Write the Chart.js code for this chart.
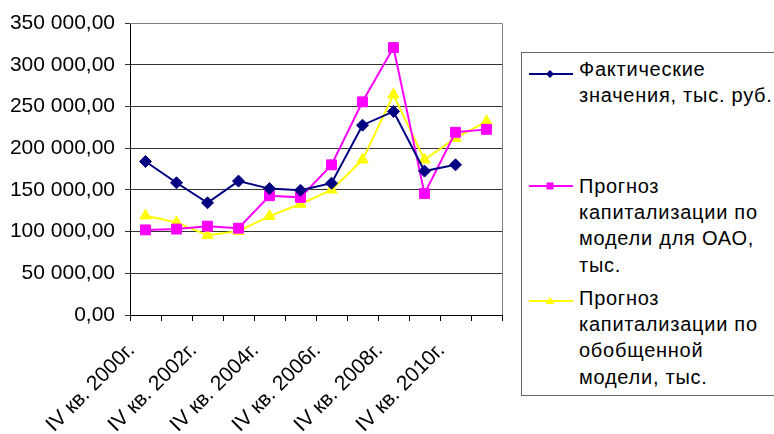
<!DOCTYPE html>
<html lang="ru">
<head>
<meta charset="utf-8">
<script src="https://cdn.jsdelivr.net/npm/chart.js@4.4.1/dist/chart.umd.min.js"></script>
<style>
  html, body { margin: 0; padding: 0; background: #fff; }
  #wrap { position: relative; width: 774px; height: 434px; overflow: hidden; }
  #legend {
    position: absolute; left: 521px; top: 52px; width: 280px; height: 342px;
    border: 1px solid #666; background: #fff;
    font-family: "Liberation Sans", Arial, sans-serif; font-size: 20px;
    letter-spacing: 0.75px; color: #000;
  }
  #legend .item { position: absolute; left: 57px; line-height: 26.2px; white-space: nowrap; }
  #legend svg { position: absolute; left: 0; top: 0; }
</style>
</head>
<body>
<div id="wrap">
  <canvas id="chart" width="774" height="434"></canvas>
  <div id="legend"></div>
</div>
<script>
// chart data
const categories = ['IV кв. 2000г.', 'IV кв. 2001г.', 'IV кв. 2002г.', 'IV кв. 2003г.', 'IV кв. 2004г.', 'IV кв. 2005г.',
  'IV кв. 2006г.', 'IV кв. 2007г.', 'IV кв. 2008г.', 'IV кв. 2009г.', 'IV кв. 2010г.', 'IV кв. 2011г.'];
const actualValues = [184000, 158500, 134500, 160500, 151500, 149500, 158000, 227500, 244000, 172500, 180000, null];
const forecastOao = [102000, 103000, 106500, 104000, 143000, 141000, 180000, 255500, 320500, 145500, 219000, 222500];
const forecastGeneral = [119000, 111000, 95500, 100500, 118500, 133000, 150000, 186000, 264000, 186000, 212000, 232000];
const seriesNames = [
  ['Фактические', 'значения, тыс. руб.'],
  ['Прогноз', 'капитализации по', 'модели для ОАО,', 'тыс.'],
  ['Прогноз', 'капитализации по', 'обобщенной', 'модели, тыс.']
];
const yMin = 0, yMax = 350000, yStep = 50000;

const FONT = { family: '"Liberation Sans", Arial, sans-serif', size: 21 };
const COLORS = ['#000080', '#FF00FF', '#FFFF00'];

// "350 000,00"
const formatValue = (v) => {
  const s = Math.round(v).toString().replace(/\B(?=(\d{3})+(?!\d))/g, ' ');
  return s + ',00';
};

// gray plot-area frame on the top and right side
const plotFrame = {
  id: 'plotFrame',
  beforeDatasetsDraw(chart) {
    const { ctx, chartArea: a } = chart;
    ctx.save();
    ctx.strokeStyle = '#808080';
    ctx.lineWidth = 1;
    ctx.beginPath();
    ctx.moveTo(a.left, a.top + 0.5);
    ctx.lineTo(a.right + 0.5, a.top + 0.5);
    ctx.lineTo(a.right + 0.5, a.bottom);
    ctx.stroke();
    ctx.restore();
  }
};

const makeDataset = (label, data, i, style, radius) => ({
  label,
  data,
  borderColor: COLORS[i],
  backgroundColor: COLORS[i],
  borderWidth: 2,
  pointStyle: style,
  pointRadius: radius,
  pointBorderWidth: 1,
  pointBorderColor: COLORS[i],
  pointBackgroundColor: COLORS[i],
  tension: 0
});

new Chart(document.getElementById('chart'), {
  type: 'line',
  data: {
    labels: categories,
    datasets: [
      makeDataset(seriesNames[0].join(' '), actualValues, 0, 'rectRot', 6),
      makeDataset(seriesNames[1].join(' '), forecastOao, 1, 'rect', 7),
      makeDataset(seriesNames[2].join(' '), forecastGeneral, 2, 'triangle', 6.5)
    ]
  },
  options: {
    responsive: false,
    animation: false,
    layout: { padding: { top: 23, right: 272, left: 0, bottom: 0 } },
    plugins: { legend: { display: false }, tooltip: { enabled: false } },
    scales: {
      x: {
        offset: true,
        grid: { offset: true, drawOnChartArea: false, drawTicks: true, tickLength: 6, color: '#000' },
        border: { color: '#000' },
        ticks: {
          autoSkip: false, maxRotation: 45, minRotation: 45, padding: 17, labelOffset: -14,
          color: '#000', font: FONT,
          callback: (v, i) => (i % 2 === 0 ? categories[i] : '')
        },
        afterFit: (s) => { s.height = 119; }
      },
      y: {
        min: yMin, max: yMax,
        grid: { color: '#333', tickLength: 5 },
        border: { color: '#000' },
        ticks: { stepSize: yStep, padding: 10, color: '#000', font: FONT, callback: formatValue },
        afterFit: (s) => { s.width = 130; }
      }
    }
  },
  plugins: [plotFrame]
});

// legend, drawn as html so the wrapped names stay real text
const legendTops = [3, 120, 232];
const markY = [21, 133, 248];
const legend = document.getElementById('legend');
let svg = '<svg width="60" height="340" xmlns="http://www.w3.org/2000/svg">';
markY.forEach((y, i) => {
  svg += `<line x1="7" y1="${y}" x2="51" y2="${y}" stroke="${COLORS[i]}" stroke-width="2"/>`;
});
svg += `<polygon points="28,${markY[0] - 4} 32,${markY[0]} 28,${markY[0] + 4} 24,${markY[0]}" fill="${COLORS[0]}"/>`;
svg += `<rect x="24.5" y="${markY[1] - 3.5}" width="7" height="7" fill="${COLORS[1]}"/>`;
svg += `<polygon points="28,${markY[2] - 4} 32.5,${markY[2] + 3} 23.5,${markY[2] + 3}" fill="${COLORS[2]}"/>`;
svg += '</svg>';
legend.innerHTML = svg;
seriesNames.forEach((lines, i) => {
  const div = document.createElement('div');
  div.className = 'item';
  div.style.top = legendTops[i] + 'px';
  div.innerHTML = lines.join('<br>');
  legend.appendChild(div);
});
</script>
</body>
</html>
